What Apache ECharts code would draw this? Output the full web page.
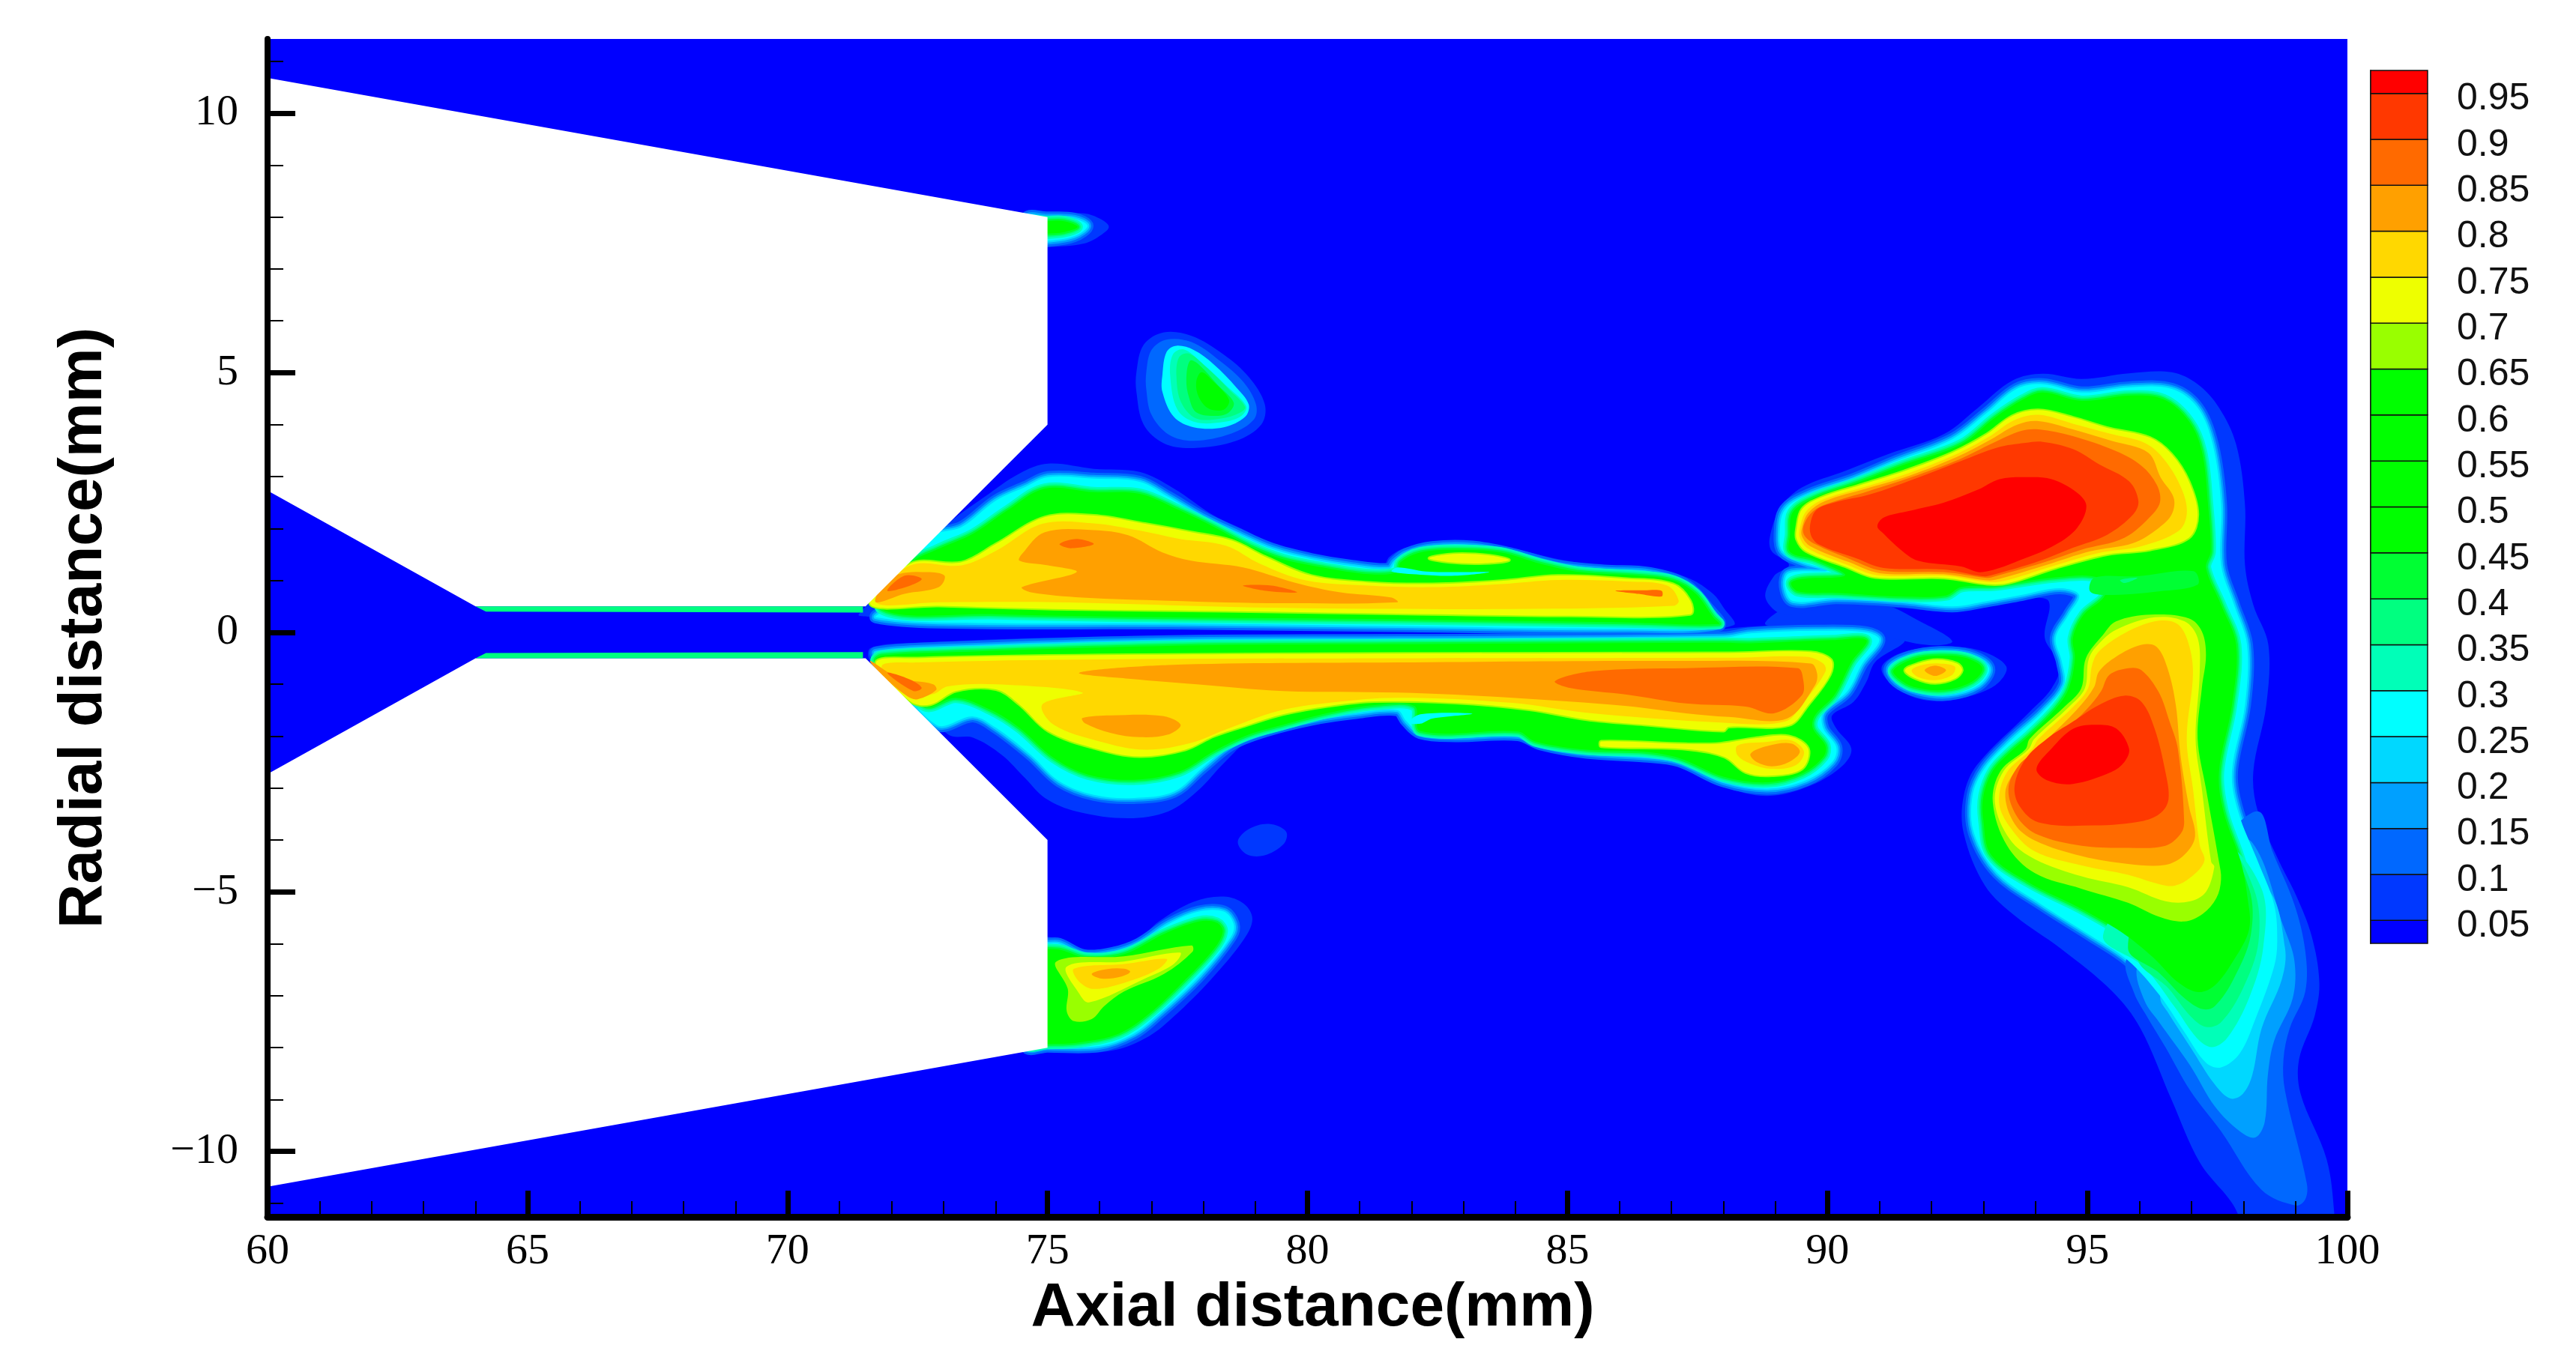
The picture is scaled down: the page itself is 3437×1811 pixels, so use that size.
<!DOCTYPE html>
<html>
<head>
<meta charset="utf-8">
<title>Axial / radial contour</title>
<script src="https://cdn.jsdelivr.net/npm/echarts@6/dist/echarts.min.js"></script>
<style>
  html, body { margin: 0; padding: 0; background: #fff; }
  #chart { width: 3437px; height: 1811px; }
</style>
</head>
<body>
<div id="chart"></div>
<script>
// axis ticks
const xMajorStep = 5
const yMajorTicks = [-10, -5, 0, 5, 10]
const yMinorTicks = [-11, -9, -8, -7, -6, -4, -3, -2, -1, 1, 2, 3, 4, 6, 7, 8, 9, 11]

// legend: band edges bottom to top, one colour per band
const legendEdges = [0.025, 0.05, 0.1, 0.15, 0.2, 0.25, 0.3, 0.35, 0.4, 0.45, 0.5, 0.55, 0.6, 0.65, 0.7, 0.75, 0.8, 0.85, 0.9, 0.95, 0.975]
const legendTicks = [0.05, 0.1, 0.15, 0.2, 0.25, 0.3, 0.35, 0.4, 0.45, 0.5, 0.55, 0.6, 0.65, 0.7, 0.75, 0.8, 0.85, 0.9, 0.95]
const bandColors = ['#0000ff', '#0038ff', '#0068ff', '#00a0ff', '#00d8ff', '#00ffff', '#00ffb8', '#00ff80', '#00ff33', '#00ff00', '#00ff00', '#00ff00', '#00ff00', '#99ff00', '#eeff00', '#ffd800', '#ffa000', '#ff6a00', '#ff3800', '#ff0000']

// nozzle walls (no data), [axial mm, radial mm]
const wallTop = [[60,11],[60,10.68],[75,8],[75,4],[71.5,0.5],[64,0.5],[60,2.73]]
const wallBottom = [[60,-2.73],[64,-0.5],[71.5,-0.5],[75,-4],[75,-8],[60,-10.68]]
const throatTop = [[64,0.5],[71.45,0.5],[71.45,0.38],[64.2,0.4]]
const throatBottom = [[64,-0.5],[71.45,-0.5],[71.45,-0.38],[64.2,-0.4]]

// upper jet
const upperC05 = [[71.37,0.35],[72.36,1.25],[73.02,2.03],[73.79,2.61],[74.46,3.06],[75.01,3.25],[75.89,3.15],[76.77,3.09],[77.43,2.77],[78.2,2.25],[78.87,1.93],[79.42,1.61],[80.08,1.45],[80.85,1.32],[81.46,1.29],[81.57,1.45],[81.84,1.61],[82.4,1.74],[83.17,1.72],[83.94,1.61],[84.82,1.41],[85.7,1.28],[86.7,1.22],[87.36,1.03],[87.8,0.74],[88,0.48],[88.2,0.14],[87,0.05],[84,0.04],[80,0.06],[76,0.08],[72.5,0.2],[71.6,0.3]]
const upperC25 = [[71.81,0.41],[72.75,1.83],[73.35,2.03],[74.01,2.54],[74.57,2.8],[75.01,2.99],[75.89,2.96],[76.77,2.9],[77.32,2.61],[77.98,2.22],[78.65,1.9],[79.31,1.61],[80.08,1.41],[80.85,1.28],[81.57,1.22],[81.68,1.35],[81.9,1.51],[82.4,1.64],[83.17,1.65],[83.94,1.51],[84.82,1.28],[85.7,1.19],[86.59,1.14],[87.25,0.93],[87.69,0.48],[87.91,0.13],[86.14,0.07],[81.73,0.12],[77.32,0.17],[72.91,0.19],[71.7,0.29]]
const upperC45 = [[71.81,0.45],[72.36,1.32],[72.91,1.61],[73.57,1.9],[74.23,2.35],[74.95,2.77],[75.89,2.7],[76.77,2.67],[77.54,2.35],[78.2,2.03],[78.87,1.67],[79.53,1.41],[80.3,1.25],[81.18,1.12],[81.73,1.16],[81.79,1.35],[82.17,1.54],[82.84,1.59],[83.72,1.54],[84.49,1.32],[85.26,1.16],[86.37,1.09],[87.03,1],[87.47,0.74],[87.8,0.29],[87.91,0.16],[86.14,0.19],[81.73,0.25],[77.32,0.29],[74.01,0.35]]
const upperNotch = [[81.73,1.25],[82.28,1.17],[82.84,1.16],[83.5,1.16],[82.84,1.09],[82.17,1.11],[81.62,1.17]]
const upperLobeC70 = [[82.34,1.43],[82.84,1.51],[83.5,1.48],[83.88,1.39],[83.39,1.33],[82.73,1.35]]
const upperC70 = [[71.59,0.54],[72.36,1.32],[73.35,1.35],[74.01,1.7],[74.95,2.22],[75.89,2.25],[76.88,2.09],[77.76,1.93],[78.54,1.77],[79.2,1.45],[80.08,1.09],[81.18,0.96],[82.4,0.93],[83.72,0.99],[84.82,1.09],[86.14,1.03],[87.03,0.93],[87.36,0.61],[87.36,0.35],[85.04,0.32],[81.73,0.36],[78.43,0.41],[75.12,0.45],[72.91,0.51]]
const upperC75 = [[71.7,0.58],[72.36,1.29],[73.35,1.29],[74.01,1.57],[74.9,2.09],[75.89,2.1],[76.77,1.96],[77.54,1.8],[78.43,1.67],[79.09,1.32],[79.97,1],[81.18,0.9],[82.4,0.87],[83.72,0.93],[84.82,1.01],[86.14,0.98],[86.92,0.9],[87.14,0.61],[87.03,0.51],[83.94,0.45],[79.53,0.47],[75.12,0.58],[72.91,0.58]]
const upperC80 = [[74.95,1.93],[75.89,1.97],[76.55,1.87],[77.21,1.54],[77.76,1.38],[78.76,1.25],[79.75,0.96],[80.63,0.77],[81.62,0.67],[81.73,0.58],[79.53,0.56],[77.32,0.61],[75.67,0.67],[74.68,0.77],[74.51,0.87],[75.56,1.16],[75.01,1.29],[74.46,1.38],[74.51,1.51]]
const upperTipC80 = [[71.81,0.87],[72.14,1.12],[72.69,1.16],[73.02,1.09],[72.91,0.87],[72.25,0.74],[71.7,0.58]]
const upperTipC85 = [[71.92,0.8],[72.25,1.09],[72.58,1.03],[72.36,0.9]]
const upperSpotA = [[75.23,1.7],[75.56,1.8],[75.89,1.7],[75.45,1.62]]
const upperSpotB = [[78.76,0.9],[79.31,0.9],[79.8,0.77],[79.2,0.8]]
const upperSpotC = [[85.92,0.8],[86.48,0.81],[86.81,0.8],[86.81,0.69],[86.37,0.74]]

// lower jet
const lowerC05 = [[71.59,-0.55],[73.09,-1.97],[73.57,-2.03],[74.12,-2.36],[74.57,-2.81],[74.95,-3.19],[75.56,-3.45],[76.55,-3.58],[77.32,-3.45],[77.87,-3.07],[78.43,-2.48],[78.87,-2.1],[79.86,-1.84],[80.85,-1.65],[81.73,-1.57],[81.82,-1.78],[82.07,-2],[82.62,-2.09],[83.39,-2.07],[84.16,-2.05],[84.6,-2.23],[85.48,-2.39],[86.48,-2.47],[87.25,-2.61],[88,-2.97],[88.85,-3.15],[89.68,-2.95],[90.3,-2.56],[90.46,-2.24],[90.17,-1.85],[90.09,-1.6],[90.5,-1.34],[90.75,-0.95],[90.92,-0.57],[91.49,-0.15],[90.91,0.02],[89.76,0.14],[88.52,0.11],[87,-0.02],[84,-0.03],[80,-0.04],[76,-0.08],[72.5,-0.2],[71.6,-0.3]]
const lowerC25 = [[71.81,-0.52],[72.86,-1.78],[73.57,-1.62],[74.01,-1.84],[74.68,-2.36],[75.23,-2.87],[75.89,-3.13],[76.66,-3.19],[77.43,-3.07],[77.98,-2.61],[78.54,-2.16],[79.2,-1.9],[80.08,-1.68],[80.96,-1.55],[81.73,-1.5],[81.9,-1.71],[82.17,-1.94],[82.84,-2],[84.05,-1.98],[84.49,-2.16],[85.37,-2.32],[86.48,-2.39],[87.14,-2.48],[88,-2.87],[88.85,-3.01],[89.59,-2.85],[90.09,-2.5],[90.17,-2.21],[89.92,-1.85],[89.92,-1.53],[90.38,-1.14],[90.67,-0.6],[91,-0.15],[90.75,0],[89.76,0.03],[88.52,-0.02],[88,-0.1],[81.73,-0.15],[77.32,-0.17],[72.91,-0.3],[71.7,-0.39]]
const lowerC45 = [[71.7,-0.55],[72.64,-1.42],[73.24,-1.26],[73.9,-1.49],[74.46,-1.84],[75.12,-2.42],[75.78,-2.74],[76.66,-2.84],[77.54,-2.68],[78.2,-2.29],[78.87,-1.97],[79.53,-1.78],[80.41,-1.55],[81.29,-1.4],[82.06,-1.42],[82.17,-1.9],[84.05,-1.91],[84.38,-2.1],[85.37,-2.26],[86.48,-2.3],[87.14,-2.42],[88,-2.78],[88.85,-2.89],[89.51,-2.72],[89.92,-2.4],[89.96,-2.18],[89.72,-1.85],[89.76,-1.6],[90.13,-1.21],[90.46,-0.57],[90.75,-0.15],[90.09,-0.15],[88.52,-0.21],[88,-0.2],[81.73,-0.23],[77.32,-0.26],[72.91,-0.39],[71.81,-0.45]]
const lowerNotch = [[81.95,-1.74],[82.17,-1.58],[83.17,-1.57],[82.4,-1.66],[82.17,-1.76]]
const lowerC70 = [[71.7,-0.58],[72.36,-1.33],[72.75,-1.39],[73.24,-1.13],[74.01,-1.1],[74.46,-1.39],[75.01,-1.9],[75.89,-2.23],[76.77,-2.39],[77.65,-2.26],[78.2,-2],[78.87,-1.78],[79.53,-1.58],[80.41,-1.42],[81.29,-1.33],[82.84,-1.36],[84.27,-1.49],[85.37,-1.68],[86.48,-1.78],[88,-1.9],[88.1,-1.82],[89.26,-1.79],[89.63,-1.4],[90.05,-0.82],[90.07,-0.53],[89.68,-0.38],[88.1,-0.4],[81.73,-0.41],[76,-0.44],[72.5,-0.5]]
const lowerC75 = [[71.81,-0.65],[72.36,-1.2],[72.8,-1.19],[73.08,-1.04],[74.01,-1],[75.67,-1.16],[74.9,-1.39],[75.12,-1.78],[76,-2.1],[76.88,-2.26],[77.76,-2.13],[78.43,-1.87],[79.42,-1.52],[80.41,-1.36],[81.73,-1.26],[83.94,-1.36],[85.37,-1.55],[88,-1.74],[89.18,-1.72],[89.55,-1.34],[89.96,-0.76],[89.92,-0.6],[89.59,-0.47],[88.1,-0.49],[81.73,-0.5],[76,-0.52],[72.5,-0.58]]
const lowerC80 = [[75.61,-0.78],[77.32,-0.63],[81.73,-0.58],[87.28,-0.55],[89.68,-0.6],[89.8,-0.79],[89.76,-1.02],[89.22,-1.66],[88.1,-1.63],[87.28,-1.56],[86.14,-1.42],[83.94,-1.26],[81.73,-1.16],[79.53,-1.13],[77.87,-1],[76.77,-0.91]]
const lowerC85 = [[84.76,-0.94],[85.48,-0.75],[87.28,-0.69],[89.43,-0.69],[89.53,-0.89],[89.51,-1.21],[88.97,-1.56],[88.43,-1.43],[87.28,-1.37],[86.14,-1.2],[85.04,-1.07]]
const lowerPatchC80 = [[75.67,-1.65],[76.22,-1.6],[77.21,-1.61],[77.56,-1.78],[77.32,-1.97],[76.77,-2.02],[76.22,-1.94],[75.72,-1.75]]
const lowerTipC80 = [[71.59,-0.55],[72.14,-0.88],[72.8,-1],[72.86,-1.11],[72.5,-1.29],[72.3,-1.23],[71.81,-0.82]]
const lowerTipC85 = [[71.92,-0.78],[72.36,-0.91],[72.58,-1.07],[72.42,-1.13]]
const sideLobeC70 = [[85.65,-2.1],[87.28,-2.15],[87.94,-2.14],[88.6,-2.04],[89.26,-2],[89.63,-2.24],[89.51,-2.63],[88.93,-2.76],[88.43,-2.7],[88.02,-2.4],[87.28,-2.25],[85.65,-2.2]]
const sideLobeC75 = [[88.27,-2.18],[88.85,-2.11],[89.3,-2.08],[89.55,-2.3],[89.39,-2.56],[88.93,-2.63],[88.52,-2.53],[88.27,-2.37]]
const sideLobeC80 = [[88.52,-2.34],[88.85,-2.19],[89.3,-2.14],[89.47,-2.3],[89.26,-2.5],[88.93,-2.58],[88.64,-2.5]]

// small ellipse near x=92
const ellipseC05 = [[91.04,-0.69],[91.41,-0.4],[92.16,-0.28],[92.9,-0.34],[93.44,-0.66],[93.23,-1.02],[92.57,-1.27],[91.91,-1.31],[91.33,-1.08]]
const ellipseC25 = [[91.2,-0.69],[91.58,-0.47],[92.16,-0.38],[92.73,-0.44],[93.11,-0.69],[92.9,-1.02],[92.32,-1.2],[91.74,-1.14],[91.33,-0.95]]
const ellipseC45 = [[91.27,-0.73],[91.66,-0.51],[92.16,-0.45],[92.65,-0.49],[92.98,-0.69],[92.78,-0.95],[92.24,-1.11],[91.66,-1.05],[91.37,-0.89]]
const ellipseC70 = [[91.49,-0.73],[91.74,-0.6],[92.11,-0.53],[92.49,-0.6],[92.59,-0.73],[92.45,-0.89],[92.07,-0.98],[91.7,-0.89]]
const ellipseC75 = [[91.62,-0.73],[91.82,-0.63],[92.15,-0.6],[92.45,-0.66],[92.4,-0.82],[92.07,-0.92],[91.74,-0.86]]
const ellipseC80 = [[91.87,-0.73],[92.07,-0.64],[92.28,-0.73],[92.07,-0.84]]
const bridgeC05 = [[89.3,0.5],[91,0.55],[91.8,0.2],[92.4,-0.17],[92,-0.25],[91.2,-0.1],[90.9,0.03],[89.4,0.12],[88.8,0.16]]

// big structure on the right, upper blob and downstream column
const bigC05 = [[88.89,1.82],[89.1,2.4],[89.51,2.79],[90.34,3.11],[91.16,3.43],[92.24,3.82],[92.9,4.33],[93.56,4.85],[94.14,4.98],[94.89,4.88],[95.8,4.99],[96.62,5.01],[97.12,4.78],[97.53,4.33],[97.86,3.62],[98.03,2.46],[98.03,1.3],[98.19,0.53],[98.48,-0.24],[98.44,-1.4],[98.19,-2.69],[98.28,-3.46],[98.69,-4.42],[99.01,-5.06],[99.31,-5.84],[99.46,-6.74],[99.37,-7.39],[99.07,-8.23],[99.1,-8.89],[99.6,-10.15],[99.75,-11.22],[99.75,-11.8],[97.75,-11.8],[97.9,-11.22],[97.16,-10.21],[96.62,-9.01],[96.02,-7.63],[95.48,-6.92],[94.47,-6.08],[93.63,-5.48],[93.03,-4.88],[92.62,-3.87],[92.62,-3.15],[92.88,-2.55],[93.89,-1.53],[94.31,-1.08],[94.47,-0.63],[94.18,-0.11],[94.26,0.59],[93.89,0.66],[93.07,0.53],[92.4,0.4],[91.41,0.47],[90.17,0.53],[89.18,0.34],[88.81,0.66],[88.97,1.08],[89.26,1.3],[88.93,1.56]]
const bigC25 = [[89.08,1.88],[89.18,2.36],[89.63,2.65],[90.5,2.95],[91.33,3.3],[92.4,3.72],[93.07,4.23],[93.64,4.69],[94.14,4.78],[94.89,4.62],[95.8,4.72],[96.62,4.69],[97.12,4.33],[97.41,3.62],[97.57,2.46],[97.57,1.3],[97.82,0.53],[98.07,-0.24],[98.03,-1.4],[97.78,-2.69],[97.9,-3.46],[98.28,-4.42],[98.59,-5.24],[98.65,-5.96],[98.59,-6.44],[98.23,-7.45],[97.93,-8.11],[97.57,-8.38],[97.28,-8.29],[96.86,-7.69],[96.38,-6.98],[95.78,-6.32],[95.06,-5.84],[94.11,-5.24],[93.27,-4.64],[92.82,-3.87],[92.79,-3.15],[93.03,-2.61],[93.56,-2.05],[94.14,-1.53],[94.55,-1.02],[94.51,-0.57],[94.39,-0.11],[94.64,0.34],[94.84,0.72],[94.47,0.85],[93.73,0.72],[93.07,0.6],[92.4,0.5],[91.41,0.6],[90.17,0.66],[89.34,0.6],[89.18,0.89],[89.26,1.14],[90,1.19],[89.51,1.36],[89.14,1.56]]
const tailC10 = [[98.29,-3.45],[98.56,-4.22],[98.98,-5.24],[99.19,-6.14],[99.19,-6.92],[98.89,-7.63],[98.77,-8.23],[98.8,-8.83],[99.22,-10.62],[99.19,-10.92],[99.01,-11.04],[98.35,-10.74],[97.57,-9.61],[96.98,-8.83],[96.5,-7.99],[96.14,-7.39],[95.9,-6.95],[95.75,-6.3],[96.38,-5.84],[97.57,-4.05]]
const tailC15 = [[98.17,-4.05],[98.77,-5.66],[98.98,-6.32],[98.95,-7.04],[98.59,-7.87],[98.47,-8.53],[98.41,-9.43],[98.23,-9.73],[97.93,-9.61],[97.45,-9.13],[96.98,-8.35],[96.38,-7.51],[96.1,-7.1],[95.95,-6.45],[96.3,-6],[97.57,-4.05]]
const tailC20 = [[98.47,-4.94],[98.8,-6.08],[98.74,-6.68],[98.35,-7.63],[98.17,-8.53],[97.99,-8.89],[97.75,-8.98],[97.45,-8.71],[96.98,-7.99],[96.56,-7.34],[96.4,-7.05],[96.5,-6.5],[96.98,-5.84],[97.57,-4.64]]
const tailC30 = [[98.35,-4.94],[98.38,-6.08],[98.11,-7.04],[97.69,-7.81],[97.39,-7.99],[97.1,-7.81],[96.68,-7.22],[96.08,-6.44],[95.3,-5.84],[96.38,-4.64],[97.57,-4.05]]
const tailC35 = [[98.2,-4.94],[98.29,-5.96],[97.99,-6.86],[97.57,-7.51],[97.28,-7.6],[96.98,-7.39],[96.56,-6.86],[95.96,-6.26],[96.38,-4.64],[97.57,-4.05]]
const tailC40 = [[98.11,-4.94],[98.14,-5.84],[97.81,-6.68],[97.45,-7.2],[97.22,-7.26],[96.86,-7.04],[96.38,-6.56],[95.78,-6.08],[96.38,-4.64],[97.57,-4.05]]
const bigC45 = [[89.28,1.88],[89.33,2.31],[89.72,2.58],[90.54,2.87],[91.45,3.22],[92.57,3.62],[93.23,4.14],[93.77,4.49],[94.14,4.62],[94.89,4.46],[95.8,4.56],[96.46,4.49],[96.95,4.07],[97.2,3.49],[97.32,2.46],[97.37,1.56],[97.28,1.24],[97.57,0.53],[97.86,-0.24],[97.78,-1.4],[97.53,-2.69],[97.62,-3.46],[97.95,-4.42],[98.08,-5.12],[98.11,-5.72],[97.81,-6.32],[97.45,-6.8],[97.13,-6.93],[96.74,-6.74],[96.26,-6.26],[95.66,-5.78],[94.83,-5.3],[93.87,-4.82],[93.15,-4.29],[93,-3.63],[93,-3.15],[93.18,-2.67],[93.51,-2.31],[93.89,-1.98],[94.39,-1.47],[94.64,-1.08],[94.76,-0.5],[94.72,-0.11],[94.93,0.34],[95.34,0.72],[95.22,1.05],[94.39,1.06],[93.23,0.9],[92.57,0.87],[92.28,0.71],[91.41,0.69],[90.17,0.76],[89.43,0.79],[89.3,0.95],[89.51,1.03],[90.34,1.1],[89.76,1.4],[89.28,1.55]]
const bridgePatchC40 = [[95.13,1.05],[95.96,1.08],[97.04,1.18],[97.12,0.92],[96.37,0.79],[95.38,0.72],[95.05,0.79]]
const bridgePatchC35 = [[95.63,1.01],[95.96,1.05],[95.71,0.95]]
const blobC70 = [[89.41,2.01],[89.51,2.37],[89.88,2.6],[90.67,2.85],[91.49,3.11],[92.4,3.46],[93.07,3.82],[93.56,4.17],[94.06,4.28],[94.72,4.14],[95.38,3.94],[96.2,3.75],[96.62,3.43],[96.95,2.91],[97.12,2.27],[96.95,1.82],[96.2,1.59],[95.38,1.5],[94.39,1.24],[93.48,0.95],[93.07,0.93],[92.24,1.05],[90.92,1.06],[90.34,1.27],[89.59,1.56],[89.41,1.79]]
const blobC75 = [[89.47,2.01],[89.59,2.33],[89.92,2.56],[90.71,2.8],[91.54,3.06],[92.45,3.42],[93.11,3.77],[93.6,4.09],[94.06,4.19],[94.72,4.02],[95.42,3.83],[96.12,3.64],[96.5,3.3],[96.83,2.72],[96.91,2.27],[96.75,1.95],[96.04,1.66],[95.22,1.53],[94.31,1.27],[93.4,0.99],[93.07,0.97],[92.24,1.09],[90.96,1.1],[90.38,1.3],[89.63,1.61],[89.47,1.82]]
const blobC80 = [[89.51,2.01],[89.63,2.3],[89.96,2.53],[90.75,2.77],[91.58,3.02],[92.49,3.38],[93.15,3.72],[93.65,4],[94.06,4.07],[94.72,3.91],[95.46,3.69],[96.17,3.46],[96.41,2.98],[96.66,2.59],[96.62,2.27],[96.37,2.01],[95.88,1.72],[95.05,1.56],[94.22,1.3],[93.31,1.03],[93.07,1],[92.24,1.12],[91,1.14],[90.42,1.35],[89.67,1.66],[89.51,1.85]]
const blobC85 = [[89.55,2.08],[89.72,2.33],[90.01,2.48],[90.79,2.72],[91.62,2.99],[92.53,3.33],[93.19,3.65],[93.73,3.88],[94.06,3.91],[94.72,3.78],[95.55,3.49],[96.05,3.2],[96.33,2.85],[96.4,2.53],[96.25,2.27],[95.71,1.82],[94.88,1.59],[94.14,1.34],[93.23,1.08],[93.07,1.05],[92.24,1.16],[91.04,1.19],[90.46,1.4],[89.76,1.7],[89.55,1.88]]
const blobC90 = [[89.68,2.14],[89.8,2.37],[90.13,2.5],[90.83,2.66],[91.66,2.95],[92.57,3.3],[93.27,3.56],[93.81,3.65],[94.14,3.67],[94.72,3.53],[95.22,3.24],[95.8,2.91],[95.98,2.53],[95.88,2.27],[95.38,1.88],[94.72,1.63],[94.06,1.37],[93.15,1.1],[92.98,1.08],[92.24,1.21],[91.08,1.24],[90.54,1.43],[89.84,1.69],[89.68,1.88]]
const blobC95 = [[90.96,2.04],[91.08,2.21],[91.58,2.34],[92.24,2.5],[92.9,2.75],[93.31,2.95],[93.81,2.99],[94.31,2.95],[94.8,2.69],[94.98,2.43],[94.8,2.01],[94.39,1.69],[93.81,1.43],[92.98,1.16],[92.57,1.27],[91.74,1.38],[91.41,1.59],[91.08,1.9]]
const columnC65 = [[95.55,0.21],[96.21,0.34],[96.95,0.27],[97.2,0.02],[97.28,-0.44],[97.2,-1.08],[97.12,-2.05],[97.28,-3.01],[97.53,-4.42],[97.57,-4.76],[97.48,-5.12],[97.22,-5.42],[96.86,-5.57],[96.38,-5.48],[95.78,-5.21],[94.89,-4.94],[93.99,-4.64],[93.45,-4.1],[93.18,-3.27],[93.33,-2.67],[93.81,-2.25],[93.89,-2.05],[94.55,-1.44],[94.88,-1.08],[94.97,-0.5],[95.3,-0.05]]
const columnC70 = [[95.55,0.05],[96.29,0.29],[96.87,0.21],[97.12,-0.11],[97.16,-0.76],[97.08,-2.05],[97.2,-3.01],[97.38,-4.42],[97.44,-4.52],[97.28,-5],[96.98,-5.18],[96.5,-5.18],[95.78,-4.91],[94.89,-4.7],[93.99,-4.37],[93.51,-3.99],[93.22,-3.27],[93.39,-2.67],[93.87,-2.25],[93.98,-2.05],[94.64,-1.44],[94.95,-1.08],[95.03,-0.5],[95.26,-0.18]]
const columnC75 = [[95.22,-0.37],[95.71,-0.02],[96.29,0.21],[96.7,0.18],[96.91,-0.11],[97.03,-0.76],[96.91,-2.05],[97.03,-3.01],[97.16,-4.1],[97.25,-4.4],[97.01,-4.7],[96.68,-4.88],[96.38,-4.85],[95.78,-4.67],[94.89,-4.49],[93.99,-4.22],[93.51,-3.75],[93.3,-3.27],[93.45,-2.7],[93.93,-2.25],[94.06,-2.05],[94.72,-1.44],[95.01,-1.08],[95.09,-0.63]]
const columnC80 = [[95.22,-0.76],[95.55,-0.47],[96.04,-0.24],[96.33,-0.28],[96.54,-0.69],[96.7,-1.4],[96.79,-2.37],[96.95,-3.34],[97.07,-3.93],[96.86,-4.29],[96.5,-4.48],[95.78,-4.46],[94.89,-4.31],[93.99,-4.01],[93.6,-3.69],[93.42,-3.09],[93.66,-2.61],[94.05,-2.25],[94.31,-1.98],[94.84,-1.44],[95.13,-1.05]]
const columnC85 = [[95.42,-0.82],[95.79,-0.69],[96.04,-0.73],[96.37,-1.15],[96.58,-1.72],[96.74,-2.25],[96.86,-3.63],[96.8,-3.87],[96.5,-4.11],[95.78,-4.15],[94.89,-4.11],[94.05,-3.9],[93.66,-3.57],[93.48,-3.03],[93.69,-2.55],[94.08,-2.25],[94.39,-2.05],[94.97,-1.5],[95.26,-1.14]]
const columnC90 = [[94.72,-1.72],[95.22,-1.4],[95.71,-1.22],[96.04,-1.34],[96.29,-1.85],[96.5,-2.69],[96.56,-3.21],[96.42,-3.47],[96.08,-3.63],[95.13,-3.72],[94.06,-3.66],[93.69,-3.34],[93.6,-2.95],[93.81,-2.44],[94.22,-2.05]]
const columnC95 = [[94.02,-2.63],[94.31,-2.24],[94.72,-1.86],[95.13,-1.78],[95.55,-1.85],[95.8,-2.24],[95.71,-2.5],[95.46,-2.69],[94.72,-2.92],[94.22,-2.85]]

// small blobs next to the nozzle exit
const lipC05 = [[74.6,8.04],[74.99,8.04],[75.7,8.07],[76.04,7.95],[76.18,7.81],[76.04,7.66],[75.7,7.49],[74.99,7.42],[74.6,7.42]]
const lipC25 = [[74.6,7.99],[74.99,7.99],[75.51,7.97],[75.77,7.83],[75.51,7.63],[74.99,7.54],[74.6,7.54]]
const lipC45 = [[74.6,7.92],[74.99,7.92],[75.32,7.92],[75.58,7.81],[75.32,7.71],[74.99,7.68],[74.6,7.68]]
const dropC05 = [[76.71,5.01],[76.85,5.54],[77.24,5.78],[77.77,5.71],[78.39,5.35],[78.87,4.92],[79.18,4.39],[79.11,4],[78.63,3.69],[77.81,3.55],[77.24,3.64],[76.85,4],[76.71,4.63]]
const dropC10 = [[76.9,5.01],[77,5.44],[77.29,5.64],[77.77,5.59],[78.29,5.25],[78.77,4.82],[79.01,4.39],[78.97,4.1],[78.54,3.83],[77.81,3.69],[77.33,3.81],[77,4.19],[76.9,4.68]]
const dropC25 = [[77.21,4.96],[77.29,5.4],[77.48,5.52],[77.81,5.44],[78.2,5.16],[78.63,4.72],[78.87,4.39],[78.8,4.15],[78.39,3.95],[77.81,3.95],[77.43,4.15],[77.21,4.63]]
const dropC30 = [[77.36,4.94],[77.41,5.35],[77.62,5.45],[77.98,5.18],[78.42,4.77],[78.82,4.36],[78.73,4.17],[78.37,4.05],[77.84,4.05],[77.5,4.29]]
const dropC35 = [[77.48,4.92],[77.53,5.3],[77.72,5.37],[78.05,5.11],[78.49,4.68],[78.8,4.34],[78.68,4.22],[78.34,4.12],[77.86,4.12],[77.57,4.43]]
const dropC40 = [[77.67,4.87],[77.74,5.23],[77.91,5.16],[78.27,4.77],[78.58,4.43],[78.49,4.24],[78.25,4.17],[77.86,4.24],[77.72,4.53]]
const dropC45 = [[77.86,4.82],[77.96,5.01],[78.15,4.87],[78.49,4.48],[78.39,4.29],[78.1,4.31],[77.91,4.53]]
const faintSpot = [[78.66,-4.03],[78.87,-3.79],[79.26,-3.69],[79.59,-3.84],[79.54,-4.08],[79.16,-4.3],[78.82,-4.27]]
const wedgeC05 = [[74.6,-5.8],[74.99,-5.86],[75.22,-5.91],[75.7,-6.15],[76.28,-6.1],[76.76,-5.91],[77.14,-5.57],[77.81,-5.19],[78.39,-5.09],[78.78,-5.23],[78.94,-5.52],[78.78,-5.91],[78.15,-6.68],[77.43,-7.4],[76.95,-7.78],[76.28,-8.05],[75.51,-8.1],[74.99,-8.05],[74.6,-8.05]]
const wedgeC25 = [[74.6,-6],[74.99,-6],[75.22,-6],[75.7,-6.22],[76.28,-6.17],[76.76,-6],[77.33,-5.62],[77.91,-5.38],[78.39,-5.38],[78.58,-5.62],[78.53,-5.86],[77.91,-6.63],[77.14,-7.35],[76.66,-7.73],[75.99,-7.97],[74.99,-7.98],[74.6,-7.98]]
const wedgeC45 = [[74.6,-6.1],[74.99,-6.1],[75.27,-6.12],[75.75,-6.27],[76.47,-6.2],[77.24,-5.81],[77.91,-5.57],[78.25,-5.59],[78.37,-5.76],[78.2,-6.1],[77.57,-6.77],[76.95,-7.35],[76.37,-7.73],[75.6,-7.9],[74.99,-7.93],[74.6,-7.93]]
const wedgeC65 = [[75.17,-6.34],[76.47,-6.24],[77.77,-6.03],[77.79,-6.15],[77.24,-6.58],[76.47,-6.92],[76.09,-7.2],[75.85,-7.45],[75.51,-7.49],[75.37,-7.3],[75.39,-6.87]]
const wedgeC70 = [[75.37,-6.44],[76.47,-6.34],[77.55,-6.17],[77.43,-6.39],[76.85,-6.68],[75.8,-7.13],[75.61,-6.96]]
const wedgeC75 = [[75.51,-6.48],[76.47,-6.39],[77.29,-6.29],[77.14,-6.48],[76.57,-6.72],[75.89,-6.87],[75.6,-6.72]]
const wedgeC80 = [[75.85,-6.58],[76.13,-6.49],[76.47,-6.48],[76.59,-6.54],[76.42,-6.63],[76.04,-6.67]]

const cyanShapes = [upperC25, lowerC25, ellipseC25, bigC25, lipC25, dropC25, wedgeC25]
const greenShapes = [upperC45, lowerC45, ellipseC45, bigC45, lipC45, wedgeC45]

// paint order: band index into bandColors, halo = [band, stroke width] rings round the shapes
const layers = [
  { band: 1, shapes: [upperC05, lowerC05, bridgeC05, ellipseC05, bigC05, lipC05, dropC05, faintSpot, wedgeC05] },
  { halo: [[2, 16], [3, 10], [4, 5]], shapes: cyanShapes },
  { band: 2, shapes: [tailC10, dropC10] },
  { band: 3, shapes: [tailC15] },
  { band: 4, shapes: [tailC20] },
  { band: 5, shapes: cyanShapes },
  { halo: [[6, 14], [7, 9], [8, 5]], shapes: greenShapes },
  { band: 6, shapes: [tailC30, dropC30] },
  { band: 7, shapes: [tailC35, dropC35] },
  { band: 8, shapes: [tailC40, dropC40] },
  { band: 9, shapes: greenShapes.concat([dropC45]) },
  { band: 8, shapes: [bridgePatchC40] },
  { band: 7, shapes: [bridgePatchC35] },
  { band: 5, shapes: [upperNotch, lowerNotch] },
  { band: 13, shapes: [columnC65, wedgeC65] },
  { band: 14, halo: [[13, 4]], shapes: [upperC70, upperLobeC70, lowerC70, sideLobeC70, ellipseC70, blobC70, columnC70, wedgeC70] },
  { band: 15, shapes: [upperC75, lowerC75, sideLobeC75, ellipseC75, blobC75, columnC75, wedgeC75] },
  { band: 16, shapes: [upperC80, upperTipC80, lowerC80, lowerPatchC80, lowerTipC80, sideLobeC80, ellipseC80, blobC80, columnC80, wedgeC80] },
  { band: 17, shapes: [upperTipC85, upperSpotA, upperSpotB, upperSpotC, lowerC85, lowerTipC85, blobC85, columnC85] },
  { band: 18, shapes: [blobC90, columnC90] },
  { band: 19, shapes: [blobC95, columnC95] },
  { color: '#ffffff', sharp: true, shapes: [wallTop, wallBottom] },
  { band: 7, sharp: true, shapes: [throatTop, throatBottom] }
]

const chart = echarts.init(document.getElementById('chart'), null, { renderer: 'canvas' })

const renderLayer = (params, api) => {
  const layer = layers[params.dataIndex]
  const children = []
  const toPoints = shape => shape.map(p => api.coord(p))
  const smooth = layer.sharp ? 0 : 0.35
  ;(layer.halo || []).forEach(([band, width]) => {
    layer.shapes.forEach(shape => {
      children.push({
        type: 'polygon',
        shape: { points: toPoints(shape), smooth },
        style: { fill: 'none', stroke: bandColors[band], lineWidth: width, lineJoin: 'round' }
      })
    })
  })
  const fill = layer.color || bandColors[layer.band]
  if (fill) {
    layer.shapes.forEach(shape => {
      children.push({
        type: 'polygon',
        shape: { points: toPoints(shape), smooth },
        style: { fill }
      })
    })
  }
  return { type: 'group', children }
}

const renderLegendBand = (params, api) => {
  const i = params.dataIndex
  const a = api.coord([0, legendEdges[i]])
  const b = api.coord([1, legendEdges[i + 1]])
  return {
    type: 'rect',
    shape: { x: a[0], y: b[1], width: b[0] - a[0], height: a[1] - b[1] },
    style: { fill: bandColors[i], stroke: '#111', lineWidth: 1.5 }
  }
}

const serif = '"Liberation Serif", serif'
const sans = '"Liberation Sans", sans-serif'
const yMin = -11.26
const yMax = 11.43

chart.setOption({
  animation: false,
  backgroundColor: '#ffffff',
  grid: [
    { left: 357, right: 305, top: 52, bottom: 187, show: true, backgroundColor: '#0000ff', borderWidth: 0 },
    { left: 3163, width: 76, top: 94, height: 1165 }
  ],
  xAxis: [
    {
      type: 'value', gridIndex: 0, min: 60, max: 100, interval: xMajorStep, z: 10,
      name: 'Axial distance(mm)', nameLocation: 'middle', nameGap: 74,
      nameTextStyle: { fontFamily: sans, fontWeight: 'bold', fontSize: 82, color: '#000', padding: [0, 0, 0, 14] },
      axisLine: { show: true, onZero: false, lineStyle: { color: '#000', width: 9 } },
      axisTick: { show: true, inside: true, length: 35, lineStyle: { color: '#000', width: 7 } },
      minorTick: { show: true, splitNumber: 5, length: 21, lineStyle: { color: '#000', width: 2 } },
      axisLabel: { show: true, margin: 18, fontFamily: serif, fontSize: 58, color: '#000' },
      splitLine: { show: false }
    },
    { type: 'value', gridIndex: 1, min: 0, max: 1, show: false }
  ],
  yAxis: [
    {
      type: 'value', gridIndex: 0, min: yMin, max: yMax, z: 10,
      name: 'Radial distance(mm)', nameLocation: 'middle', nameGap: 204, nameRotate: 90,
      nameTextStyle: { fontFamily: sans, fontWeight: 'bold', fontSize: 82, color: '#000' },
      axisLine: { show: true, onZero: false, lineStyle: { color: '#000', width: 8 } },
      axisTick: { show: true, inside: true, length: 37, customValues: yMajorTicks, lineStyle: { color: '#000', width: 7 } },
      axisLabel: { show: true, margin: 39, customValues: yMajorTicks, fontFamily: serif, fontSize: 58, color: '#000', formatter: v => String(v).replace('-', '\u2212') },
      splitLine: { show: false }
    },
    {
      type: 'value', gridIndex: 1, min: 0.025, max: 0.975, position: 'right',
      axisLine: { show: true, lineStyle: { color: '#555', width: 2 } },
      axisTick: { show: false },
      axisLabel: { show: true, margin: 39, customValues: legendTicks, fontFamily: sans, fontSize: 50, color: '#111', verticalAlign: 'top', lineHeight: 16 },
      splitLine: { show: false }
    },
    {
      type: 'value', gridIndex: 0, min: yMin, max: yMax, position: 'left', z: 10,
      axisLine: { show: false, onZero: false },
      axisTick: { show: true, inside: true, length: 21, customValues: yMinorTicks, lineStyle: { color: '#000', width: 2 } },
      axisLabel: { show: false },
      splitLine: { show: false }
    }
  ],
  series: [
    {
      type: 'custom', xAxisIndex: 0, yAxisIndex: 0, silent: true, clip: true,
      data: layers.map((l, i) => [i]),
      renderItem: renderLayer
    },
    {
      type: 'custom', xAxisIndex: 1, yAxisIndex: 1, silent: true,
      data: bandColors.map((c, i) => [i]),
      renderItem: renderLegendBand
    }
  ]
})
</script>
</body>
</html>
